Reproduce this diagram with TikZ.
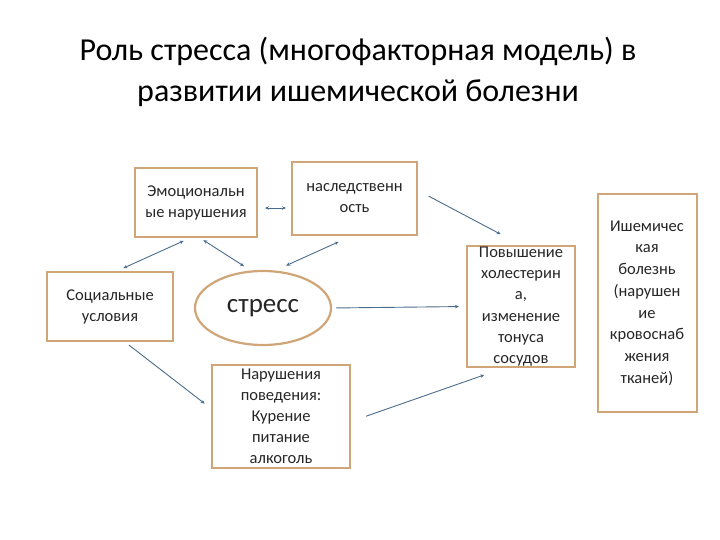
\documentclass[tikz,border=0pt]{standalone}
\usepackage{fontspec}
\setmainfont{Carlito}
\usetikzlibrary{arrows.meta,shapes.geometric}
\definecolor{boxtan}{RGB}{208,165,120}
\definecolor{linkblue}{RGB}{75,108,138}
\begin{document}
\begin{tikzpicture}[
        x=1pt, y=-1pt,
        every node/.style={text=black!85},
        box/.style={draw=boxtan, line width=2pt, fill=white, align=center, inner sep=0pt,
            font=\fontsize{16.5}{21}\selectfont},
        oval/.style={draw=boxtan, line width=2.2pt, ellipse, inner sep=0pt,
            minimum width=136pt, minimum height=74pt, font=\fontsize{27}{30}\selectfont},
        link/.style={draw=linkblue, line width=0.9pt},
        tip/.style={-{Stealth[length=4pt,width=3.5pt]}},
        tips/.style={{Stealth[length=4pt,width=3.5pt]}-{Stealth[length=4pt,width=3.5pt]}},
    ]
    \useasboundingbox (0,0) rectangle (720,540);
    \node[font=\fontsize{32}{41}\selectfont, align=center, text=black] (title) at (358,72)
        {Роль стресса (многофакторная модель) в\\развитии ишемической болезни};
    \node[box, minimum width=122pt, minimum height=69pt] (emo) at (196,202.5) {Эмоциональн\\ые нарушения};
    \node[box, minimum width=125pt, minimum height=73pt] (nasl) at (354.5,198.5) {наследственн\\ость};
    \node[box, minimum width=126pt, minimum height=69pt] (soc) at (110,306.5) {Социальные\\условия};
    \node[oval] (stress) at (263,308) {стресс};
    \node[box, minimum width=138pt, minimum height=103pt] (behav) at (281,416.5)
        {Нарушения\\поведения:\\Курение\\питание\\алкоголь};
    \node[box, minimum width=108pt, minimum height=121pt, font=\fontsize{16.5}{21.3}\selectfont] (chol) at (521,306.5)
        {Повышение\\холестерин\\а,\\изменение\\тонуса\\сосудов};
    \node[box, minimum width=99pt, minimum height=217pt, font=\fontsize{16.5}{21.7}\selectfont] (ihd) at (647,303)
        {Ишемичес\\кая\\болезнь\\(нарушен\\ие\\кровоснаб\\жения\\тканей)};

    \draw[link, tips, shorten <=7pt, shorten >=5pt] ([yshift=-5.5pt]emo.east) -- ([yshift=-9.5pt]nasl.west);
    \draw[link, tip, shorten <=12pt, shorten >=23pt] ([yshift=8pt]nasl.east) -- (chol.north);
    \draw[link, tips, shorten <=7pt, shorten >=7pt] ([xshift=-6pt]emo.south) -- ([xshift=7pt]soc.north);
    \draw[link, tips, shorten <=4pt, shorten >=8pt] ([xshift=4pt]emo.south) -- (stress.108);
    \draw[link, tips, shorten <=12pt, shorten >=14pt] (stress.72) -- ([xshift=-3pt]nasl.south);
    \draw[link, tip, shorten <=4pt, shorten >=7pt] (stress.east) -- (chol.west);
    \draw[link, tip, shorten <=5pt, shorten >=8pt] ([xshift=15pt]soc.south) -- ([yshift=8pt]behav.west);
    \draw[link, tip, shorten <=16pt, shorten >=21pt] ([yshift=-5pt]behav.east) -- ([xshift=-17pt]chol.south);
\end{tikzpicture}
\end{document}
